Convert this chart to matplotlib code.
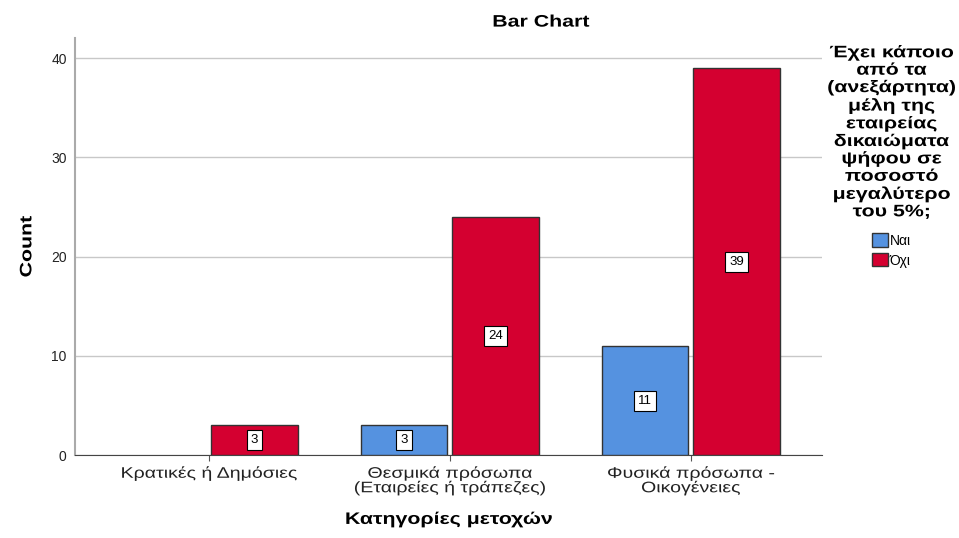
import numpy as np
import matplotlib.pyplot as plt
from matplotlib.patheffects import AbstractPathEffect
from matplotlib.transforms import Affine2D

plt.rcParams['font.family'] = ['Liberation Sans', 'DejaVu Sans']

categories = ["Κρατικές ή Δημόσιες", "Θεσμικά πρόσωπα\n(Εταιρείες ή τράπεζες)", "Φυσικά πρόσωπα -\nΟικογένειες"]
nai = [0, 3, 11]
oxi = [3, 24, 39]
series_names = ["Ναι", "Όχι"]
legend_title = "Έχει κάποιο\nαπό τα\n(ανεξάρτητα)\nμέλη της\nεταιρείας\nδικαιώματα\nψήφου σε\nποσοστό\nμεγαλύτερο\nτου 5%;"

blue = "#5592E0"
red = "#D40030"


# the reference text looks stretched sideways, so widen glyphs around each line's centre
class HStretch(AbstractPathEffect):
    def __init__(self, sx=1.27):
        super().__init__()
        self.sx = sx

    def draw_path(self, renderer, gc, tpath, affine, rgbFace=None):
        ext = tpath.get_extents()
        cx = (ext.x0 + ext.x1) / 2
        t = Affine2D().translate(-cx, 0).scale(self.sx, 1).translate(cx, 0) + affine
        renderer.draw_path(gc, tpath, t, rgbFace)


stretch = [HStretch(1.28)]

fig = plt.figure(figsize=(9.59, 5.38), dpi=100)
ax = fig.add_axes([0.0782, 0.154, 0.779, 0.775])

x = np.arange(len(categories))
w = 0.36
off = 0.19
for vals, col, dx, name in [(nai, blue, -off, series_names[0]), (oxi, red, off, series_names[1])]:
    h = [v if v > 0 else np.nan for v in vals]
    ax.bar(x + dx, h, width=w, color=col, edgecolor="#333333", linewidth=1.0, label=name, zorder=3)
    for xi, v in zip(x + dx, vals):
        if v > 0:
            ax.text(xi, v / 2, str(v), ha="center", va="center", fontsize=9.5, zorder=4,
                    bbox=dict(boxstyle="square,pad=0.3", fc="white", ec="black", lw=0.8))

ax.set_xlim(-0.555, 2.545)
ax.set_ylim(0, 42)
ax.set_yticks([0, 10, 20, 30, 40])
ax.set_xticks(x)
ax.set_xticklabels(categories, fontsize=11, color="#222222", linespacing=1.0)
for lab in ax.get_xticklabels():
    lab.set_path_effects(stretch)
ax.tick_params(axis="y", labelsize=10, length=0, pad=6, colors="#222222")
ax.tick_params(axis="x", length=4, color="#555555", pad=4)
ax.yaxis.grid(True, color="#C8C8C8", linewidth=1.0, zorder=0)
ax.set_axisbelow(True)
for s in ["top", "right"]:
    ax.spines[s].set_visible(False)
ax.spines["left"].set_color("#AAAAAA")
ax.spines["left"].set_linewidth(1.5)
ax.spines["bottom"].set_color("#444444")

ax.set_ylabel("Count", fontsize=12, fontweight="bold", labelpad=12, path_effects=stretch)
ax.set_xlabel("Κατηγορίες μετοχών", fontsize=12, fontweight="bold", labelpad=12, path_effects=stretch)

fig.text(0.564, 0.945, "Bar Chart", ha="center", va="bottom", fontsize=12, fontweight="bold",
         path_effects=stretch)

leg = ax.legend(title=legend_title, loc="upper left", bbox_to_anchor=(1.009, 1.013),
                frameon=False, fontsize=10, handlelength=1.15, handleheight=1.1,
                handletextpad=0.15, labelspacing=0.4,
                title_fontproperties={"weight": "bold", "size": 12})
leg.get_title().set_multialignment("center")
leg.get_title().set_linespacing(1.2)
leg.get_title().set_path_effects(stretch)
leg._legend_box.align = "center"
leg._legend_box.sep = 10

fig.savefig("out.png", dpi=100)
